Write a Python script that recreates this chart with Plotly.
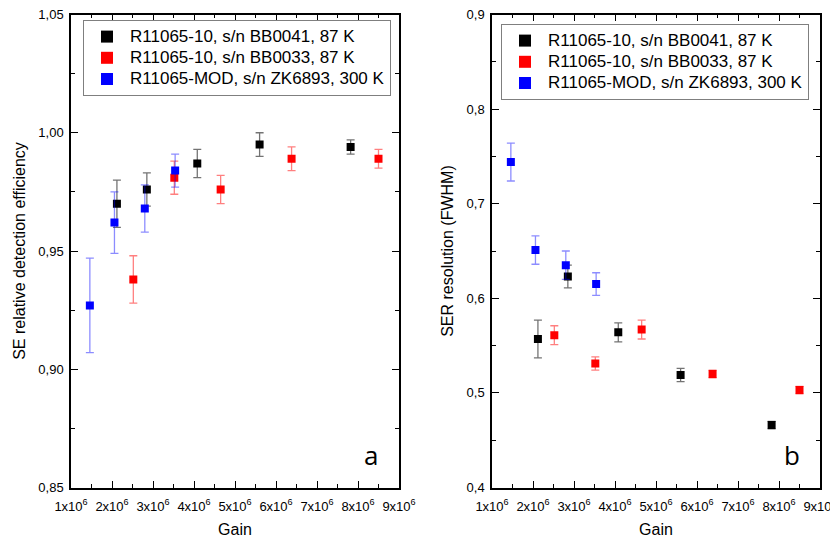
import plotly.graph_objects as go

# ---------------- data ----------------
series_names = ["R11065-10, s/n BB0041, 87 K",
                "R11065-10, s/n BB0033, 87 K",
                "R11065-MOD, s/n ZK6893, 300 K"]

gain_bb0041 = [2.12e6, 2.85e6, 4.08e6, 5.60e6, 7.82e6]
gain_bb0033 = [2.52e6, 3.52e6, 4.65e6, 6.38e6, 8.50e6]
gain_zk6893 = [1.46e6, 2.06e6, 2.80e6, 3.54e6]

# panel a: SE relative detection efficiency
se_bb0041 = [0.970, 0.976, 0.987, 0.995, 0.994]
se_bb0041_err = [0.010, 0.007, 0.006, 0.005, 0.003]
se_bb0033 = [0.938, 0.981, 0.976, 0.989, 0.989]
se_bb0033_err = [0.010, 0.007, 0.006, 0.005, 0.004]
se_zk6893 = [0.927, 0.962, 0.968, 0.984]
se_zk6893_err = [0.020, 0.013, 0.010, 0.007]

# panel b: SER resolution (FWHM)
ser_bb0041 = [0.557, 0.623, 0.564, 0.519, 0.466]
ser_bb0041_err = [0.020, 0.012, 0.010, 0.007, 0.004]
ser_bb0033 = [0.561, 0.531, 0.567, 0.520, 0.503]
ser_bb0033_err = [0.010, 0.007, 0.010, 0.004, 0.004]
ser_zk6893 = [0.744, 0.651, 0.635, 0.615]
ser_zk6893_err = [0.020, 0.015, 0.015, 0.012]

x_tickvals = [1e6, 2e6, 3e6, 4e6, 5e6, 6e6, 7e6, 8e6, 9e6]
x_ticktext = [f"{i}x10<sup>6</sup>" for i in range(1, 10)]
ya_tickvals = [0.85, 0.90, 0.95, 1.00, 1.05]
ya_ticktext = ["0,85", "0,90", "0,95", "1,00", "1,05"]
yb_tickvals = [0.4, 0.5, 0.6, 0.7, 0.8, 0.9]
yb_ticktext = ["0,4", "0,5", "0,6", "0,7", "0,8", "0,9"]

colors = ["#000000", "#ff0000", "#0000ff"]
err_colors = ["rgba(0,0,0,0.55)", "rgba(255,0,0,0.5)", "rgba(0,0,255,0.45)"]

FONT = "Liberation Sans, Arial, sans-serif"

# the page body has an 8px margin, so the figure is drawn 8px in from the window corner
W, H, OFF = 830, 537, 8


def px(x):
    return (x - OFF) / W


def py(y):
    return 1 - (y - OFF) / H


fig = go.Figure()

panels = [
    ("x", "y", "legend", [(gain_bb0041, se_bb0041, se_bb0041_err),
                          (gain_bb0033, se_bb0033, se_bb0033_err),
                          (gain_zk6893, se_zk6893, se_zk6893_err)]),
    ("x2", "y2", "legend2", [(gain_bb0041, ser_bb0041, ser_bb0041_err),
                             (gain_bb0033, ser_bb0033, ser_bb0033_err),
                             (gain_zk6893, ser_zk6893, ser_zk6893_err)]),
]

for xa, ya, leg, data in panels:
    for i, (gx, gy, ge) in enumerate(data):
        fig.add_trace(go.Scatter(
            x=gx, y=gy, mode="markers",
            name=f'<span style="font-size:17px">{series_names[i]}</span>',
            xaxis=xa, yaxis=ya, legend=leg,
            marker=dict(symbol="square", size=8, color=colors[i],
                        line=dict(width=0)),
            error_y=dict(type="data", array=ge, visible=True,
                         color=err_colors[i], thickness=1.3, width=4),
        ))

axis_common = dict(
    showline=True, linecolor="black", linewidth=1.5, mirror="allticks",
    ticks="inside", ticklen=7, tickwidth=1.2, tickcolor="black",
    showgrid=False, zeroline=False, automargin=False,
    ticklabeloverflow="allow",
    tickfont=dict(family=FONT, size=13, color="black"),
)

xdom1 = [px(71), px(399)]
xdom2 = [px(492), px(820)]
ydom = [py(487.5), py(14.5)]

legend_common = dict(
    xanchor="left", yanchor="top",
    bordercolor="#7f7f7f", borderwidth=1, bgcolor="white",
    font=dict(family=FONT, size=14, color="black"),
    tracegroupgap=0, itemsizing="constant", itemwidth=36,
)


def xminor():
    return dict(ticks="inside", ticklen=4, tickcolor="black",
                tickmode="linear", dtick=5e5, tick0=1e6)


fig.update_layout(
    width=W, height=H,
    margin=dict(l=0, r=0, t=0, b=0, autoexpand=False),
    paper_bgcolor="white", plot_bgcolor="white",
    font=dict(family=FONT, color="black"),
    xaxis=dict(domain=xdom1, range=[1e6, 9e6], anchor="y",
               tickvals=x_tickvals, ticktext=x_ticktext, ticklabelstandoff=6,
               minor=xminor(),
               title=dict(text="Gain", font=dict(size=16), standoff=11),
               **axis_common),
    yaxis=dict(domain=ydom, range=[0.85, 1.05], anchor="x",
               tickvals=ya_tickvals, ticktext=ya_ticktext, ticklabelstandoff=3,
               minor=dict(ticks="inside", ticklen=4, tickcolor="black",
                          tickmode="linear", dtick=0.025, tick0=0.85),
               title=dict(text="SE relative detection efficiency",
                          font=dict(size=16), standoff=9),
               **axis_common),
    xaxis2=dict(domain=xdom2, range=[1e6, 9e6], anchor="y2",
                tickvals=x_tickvals, ticktext=x_ticktext, ticklabelstandoff=6,
                minor=xminor(),
                title=dict(text="Gain", font=dict(size=16), standoff=11),
                **axis_common),
    yaxis2=dict(domain=ydom, range=[0.4, 0.9], anchor="x2",
                tickvals=yb_tickvals, ticktext=yb_ticktext, ticklabelstandoff=3,
                minor=dict(ticks="inside", ticklen=4, tickcolor="black",
                           tickmode="linear", dtick=0.05, tick0=0.4),
                title=dict(text="SER resolution (FWHM)",
                           font=dict(size=16), standoff=9),
                **axis_common),
    legend=dict(x=px(83), y=py(20), **legend_common),
    legend2=dict(x=px(501), y=py(24), **legend_common),
    showlegend=True,
    annotations=[
        dict(text="a", x=px(371), y=py(455), xref="paper", yref="paper",
             xanchor="center", yanchor="middle", showarrow=False,
             font=dict(family="Open Sans, sans-serif", size=26, color="black")),
        dict(text="b", x=px(792), y=py(455), xref="paper", yref="paper",
             xanchor="center", yanchor="middle", showarrow=False,
             font=dict(family="Open Sans, sans-serif", size=26, color="black")),
    ],
)

fig.write_html("out.html")
